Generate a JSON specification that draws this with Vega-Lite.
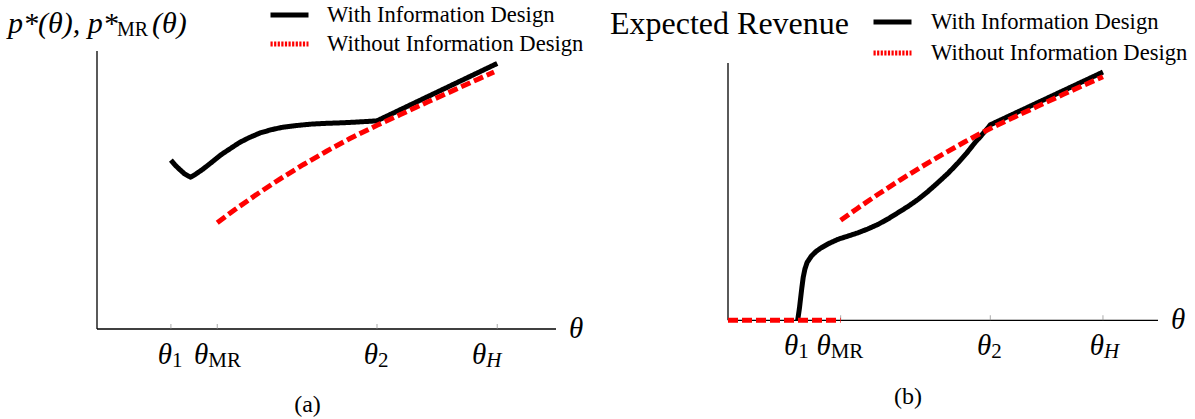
{
  "$schema": "https://vega.github.io/schema/vega-lite/v6.json",
  "background": "white",
  "padding": {"left": 8, "top": 4, "right": 0, "bottom": 0},
  "autosize": {"type": "pad"},
  "spacing": 26,
  "config": {
    "view": {"stroke": null},
    "font": "Liberation Serif"
  },
  "datasets": {
    "ticklabels": [
      {"theta": 1.61, "sub": "1"},
      {"theta": 2.62, "sub": "MR"},
      {"theta": 6.1, "sub": "2"},
      {"theta": 8.72, "sub": "H"}
    ],
    "curves": [
      {"panel": "a", "series": "With Information Design", "part": "p1", "theta": 1.61, "value": 6.12},
      {"panel": "a", "series": "With Information Design", "part": "p1", "theta": 1.7, "value": 5.94},
      {"panel": "a", "series": "With Information Design", "part": "p1", "theta": 1.8, "value": 5.78},
      {"panel": "a", "series": "With Information Design", "part": "p1", "theta": 1.9, "value": 5.63},
      {"panel": "a", "series": "With Information Design", "part": "p1", "theta": 2.0, "value": 5.53},
      {"panel": "a", "series": "With Information Design", "part": "p1", "theta": 2.04, "value": 5.5},
      {"panel": "a", "series": "With Information Design", "part": "p1", "theta": 2.15, "value": 5.61},
      {"panel": "a", "series": "With Information Design", "part": "p1", "theta": 2.3, "value": 5.78},
      {"panel": "a", "series": "With Information Design", "part": "p1", "theta": 2.5, "value": 6.04},
      {"panel": "a", "series": "With Information Design", "part": "p1", "theta": 2.7, "value": 6.31},
      {"panel": "a", "series": "With Information Design", "part": "p1", "theta": 2.9, "value": 6.53},
      {"panel": "a", "series": "With Information Design", "part": "p1", "theta": 3.1, "value": 6.75},
      {"panel": "a", "series": "With Information Design", "part": "p1", "theta": 3.3, "value": 6.92},
      {"panel": "a", "series": "With Information Design", "part": "p1", "theta": 3.55, "value": 7.1},
      {"panel": "a", "series": "With Information Design", "part": "p1", "theta": 3.8, "value": 7.22},
      {"panel": "a", "series": "With Information Design", "part": "p1", "theta": 4.05, "value": 7.31},
      {"panel": "a", "series": "With Information Design", "part": "p1", "theta": 4.35, "value": 7.37},
      {"panel": "a", "series": "With Information Design", "part": "p1", "theta": 4.65, "value": 7.42},
      {"panel": "a", "series": "With Information Design", "part": "p1", "theta": 5.0, "value": 7.45},
      {"panel": "a", "series": "With Information Design", "part": "p1", "theta": 5.35, "value": 7.47},
      {"panel": "a", "series": "With Information Design", "part": "p1", "theta": 5.7, "value": 7.5},
      {"panel": "a", "series": "With Information Design", "part": "p1", "theta": 6.1, "value": 7.54},
      {"panel": "a", "series": "With Information Design", "part": "p1", "theta": 8.72, "value": 9.62},

      {"panel": "a", "series": "Without Information Design", "part": "p1", "theta": 2.62, "value": 3.85},
      {"panel": "a", "series": "Without Information Design", "part": "p1", "theta": 3.0, "value": 4.32},
      {"panel": "a", "series": "Without Information Design", "part": "p1", "theta": 3.5, "value": 4.9},
      {"panel": "a", "series": "Without Information Design", "part": "p1", "theta": 4.0, "value": 5.45},
      {"panel": "a", "series": "Without Information Design", "part": "p1", "theta": 4.5, "value": 5.96},
      {"panel": "a", "series": "Without Information Design", "part": "p1", "theta": 5.0, "value": 6.44},
      {"panel": "a", "series": "Without Information Design", "part": "p1", "theta": 5.5, "value": 6.89},
      {"panel": "a", "series": "Without Information Design", "part": "p1", "theta": 6.1, "value": 7.38},
      {"panel": "a", "series": "Without Information Design", "part": "p1", "theta": 6.6, "value": 7.76},
      {"panel": "a", "series": "Without Information Design", "part": "p1", "theta": 7.2, "value": 8.22},
      {"panel": "a", "series": "Without Information Design", "part": "p1", "theta": 7.8, "value": 8.67},
      {"panel": "a", "series": "Without Information Design", "part": "p1", "theta": 8.3, "value": 9.05},
      {"panel": "a", "series": "Without Information Design", "part": "p1", "theta": 8.65, "value": 9.31},

      {"panel": "b", "series": "With Information Design", "part": "p1", "theta": 1.62, "value": 0},
      {"panel": "b", "series": "With Information Design", "part": "p1", "theta": 1.66, "value": 0.45},
      {"panel": "b", "series": "With Information Design", "part": "p1", "theta": 1.69, "value": 0.88},
      {"panel": "b", "series": "With Information Design", "part": "p1", "theta": 1.72, "value": 1.3},
      {"panel": "b", "series": "With Information Design", "part": "p1", "theta": 1.75, "value": 1.68},
      {"panel": "b", "series": "With Information Design", "part": "p1", "theta": 1.79, "value": 2.0},
      {"panel": "b", "series": "With Information Design", "part": "p1", "theta": 1.84, "value": 2.25},
      {"panel": "b", "series": "With Information Design", "part": "p1", "theta": 1.94, "value": 2.5},
      {"panel": "b", "series": "With Information Design", "part": "p1", "theta": 2.05, "value": 2.68},
      {"panel": "b", "series": "With Information Design", "part": "p1", "theta": 2.17, "value": 2.82},
      {"panel": "b", "series": "With Information Design", "part": "p1", "theta": 2.35, "value": 2.99},
      {"panel": "b", "series": "With Information Design", "part": "p1", "theta": 2.56, "value": 3.15},
      {"panel": "b", "series": "With Information Design", "part": "p1", "theta": 2.8, "value": 3.28},
      {"panel": "b", "series": "With Information Design", "part": "p1", "theta": 3.02, "value": 3.4},
      {"panel": "b", "series": "With Information Design", "part": "p1", "theta": 3.25, "value": 3.55},
      {"panel": "b", "series": "With Information Design", "part": "p1", "theta": 3.49, "value": 3.73},
      {"panel": "b", "series": "With Information Design", "part": "p1", "theta": 3.72, "value": 3.94},
      {"panel": "b", "series": "With Information Design", "part": "p1", "theta": 3.95, "value": 4.18},
      {"panel": "b", "series": "With Information Design", "part": "p1", "theta": 4.19, "value": 4.43},
      {"panel": "b", "series": "With Information Design", "part": "p1", "theta": 4.42, "value": 4.7},
      {"panel": "b", "series": "With Information Design", "part": "p1", "theta": 4.65, "value": 5.01},
      {"panel": "b", "series": "With Information Design", "part": "p1", "theta": 4.88, "value": 5.35},
      {"panel": "b", "series": "With Information Design", "part": "p1", "theta": 5.12, "value": 5.72},
      {"panel": "b", "series": "With Information Design", "part": "p1", "theta": 5.35, "value": 6.12},
      {"panel": "b", "series": "With Information Design", "part": "p1", "theta": 5.55, "value": 6.5},
      {"panel": "b", "series": "With Information Design", "part": "p1", "theta": 5.74, "value": 6.9},
      {"panel": "b", "series": "With Information Design", "part": "p1", "theta": 5.9, "value": 7.2},
      {"panel": "b", "series": "With Information Design", "part": "p1", "theta": 6.05, "value": 7.49},
      {"panel": "b", "series": "With Information Design", "part": "p1", "theta": 6.1, "value": 7.6},
      {"panel": "b", "series": "With Information Design", "part": "p1", "theta": 8.72, "value": 9.65},

      {"panel": "b", "series": "Without Information Design", "part": "p0", "theta": 0, "value": 0},
      {"panel": "b", "series": "Without Information Design", "part": "p0", "theta": 2.62, "value": 0},
      {"panel": "b", "series": "Without Information Design", "part": "p1", "theta": 2.62, "value": 3.89},
      {"panel": "b", "series": "Without Information Design", "part": "p1", "theta": 3.0, "value": 4.34},
      {"panel": "b", "series": "Without Information Design", "part": "p1", "theta": 3.5, "value": 4.91},
      {"panel": "b", "series": "Without Information Design", "part": "p1", "theta": 4.0, "value": 5.45},
      {"panel": "b", "series": "Without Information Design", "part": "p1", "theta": 4.5, "value": 5.97},
      {"panel": "b", "series": "Without Information Design", "part": "p1", "theta": 5.0, "value": 6.46},
      {"panel": "b", "series": "Without Information Design", "part": "p1", "theta": 5.5, "value": 6.93},
      {"panel": "b", "series": "Without Information Design", "part": "p1", "theta": 5.9, "value": 7.29},
      {"panel": "b", "series": "Without Information Design", "part": "p1", "theta": 6.1, "value": 7.46},
      {"panel": "b", "series": "Without Information Design", "part": "p1", "theta": 6.6, "value": 7.855},
      {"panel": "b", "series": "Without Information Design", "part": "p1", "theta": 7.2, "value": 8.32},
      {"panel": "b", "series": "Without Information Design", "part": "p1", "theta": 7.8, "value": 8.785},
      {"panel": "b", "series": "Without Information Design", "part": "p1", "theta": 8.3, "value": 9.16},
      {"panel": "b", "series": "Without Information Design", "part": "p1", "theta": 8.72, "value": 9.47}
    ]
  },
  "resolve": {
    "scale": {"x": "independent", "y": "independent", "color": "independent", "strokeDash": "independent"},
    "legend": {"color": "independent", "strokeDash": "independent"}
  },
  "hconcat": [
    {
      "width": 459,
      "height": 278,
      "title": {"text": "(a)", "orient": "bottom", "frame": "group", "anchor": "middle", "dx": -19, "offset": 22, "fontSize": 24, "font": "Liberation Serif", "fontWeight": "normal", "color": "black"},
      "layer": [
        {
          "data": {"name": "curves"},
          "transform": [{"filter": "datum.panel === 'a' && datum.series === 'With Information Design'"}],
          "mark": {"type": "line", "strokeWidth": 5, "strokeJoin": "round"},
          "encoding": {
            "x": {"field": "theta", "type": "quantitative", "scale": {"domain": [0, 10], "nice": false, "zero": false}, "axis": null},
            "y": {"field": "value", "type": "quantitative", "scale": {"domain": [0, 10.07], "nice": false, "zero": false}, "axis": null},
            "color": {"field": "series", "type": "nominal",
              "scale": {"domain": ["With Information Design", "Without Information Design"], "range": ["#000000", "#ff0000"]},
              "legend": {"orient": "none", "legendX": 171, "legendY": -47, "title": null, "symbolType": "stroke", "symbolSize": 1444, "symbolStrokeWidth": 5, "clipHeight": 22,
                "labelFont": "Liberation Serif", "labelFontSize": 22.6, "labelColor": "black", "labelOffset": 16, "labelLimit": 600, "rowPadding": 6, "padding": 0}},
            "strokeDash": {"field": "series", "type": "nominal",
              "scale": {"domain": ["With Information Design", "Without Information Design"], "range": [[1, 0], [2.2, 1.4]]},
              "legend": {"orient": "none", "legendX": 171, "legendY": -47, "title": null, "symbolType": "stroke", "symbolSize": 1444, "symbolStrokeWidth": 5, "clipHeight": 22,
                "labelFont": "Liberation Serif", "labelFontSize": 22.6, "labelColor": "black", "labelOffset": 16, "labelLimit": 600, "rowPadding": 6, "padding": 0}},
            "detail": {"field": "part", "type": "nominal"}
          }
        },
        {
          "data": {"name": "curves"},
          "transform": [{"filter": "datum.panel === 'a' && datum.series === 'Without Information Design'"}],
          "mark": {"type": "line", "strokeWidth": 5, "strokeDash": [10, 4]},
          "encoding": {
            "x": {"field": "theta", "type": "quantitative", "axis": null},
            "y": {"field": "value", "type": "quantitative", "axis": null},
            "color": {"field": "series", "type": "nominal", "legend": null},
            "detail": {"field": "part", "type": "nominal"}
          }
        },
        {
          "data": {"values": [{}]},
          "mark": {"type": "rule", "color": "black", "strokeWidth": 1.3},
          "encoding": {"x": {"datum": 0, "axis": null}, "y": {"datum": 0, "axis": null}, "y2": {"datum": 10.07}}
        },
        {
          "data": {"values": [{}]},
          "mark": {"type": "rule", "color": "black", "strokeWidth": 1.3},
          "encoding": {"x": {"datum": 0, "axis": null}, "x2": {"datum": 10}, "y": {"datum": 0, "axis": null}}
        },
        {
          "data": {"name": "ticklabels"},
          "mark": {"type": "tick", "orient": "vertical", "size": 5, "thickness": 1, "color": "#888888", "yOffset": -2.5},
          "encoding": {"x": {"field": "theta", "type": "quantitative", "axis": null}, "y": {"datum": 0, "axis": null}}
        },
        {
          "data": {"values": [{"label": "θ"}]},
          "mark": {"type": "text", "align": "left", "baseline": "middle", "fontSize": 29, "fontStyle": "italic", "dx": 13, "color": "black"},
          "encoding": {"x": {"datum": 10, "axis": null}, "y": {"datum": 0, "axis": null}, "text": {"field": "label", "type": "nominal"}}
        },
        {
          "data": {"name": "ticklabels"},
          "transform": [{"filter": "datum.sub === '1' || datum.sub === '2'"}],
          "mark": {"type": "text", "text": "θ", "align": "right", "baseline": "alphabetic", "fontSize": 29, "fontStyle": "italic", "dx": 1, "dy": 35, "color": "black"},
          "encoding": {"x": {"field": "theta", "type": "quantitative", "axis": null}, "y": {"datum": 0, "axis": null}}
        },
        {
          "data": {"name": "ticklabels"},
          "transform": [{"filter": "datum.sub === '1' || datum.sub === '2'"}],
          "mark": {"type": "text", "align": "left", "baseline": "alphabetic", "fontSize": 21, "dx": 1, "dy": 38, "color": "black"},
          "encoding": {"x": {"field": "theta", "type": "quantitative", "axis": null}, "y": {"datum": 0, "axis": null}, "text": {"field": "sub", "type": "nominal"}}
        },
        {
          "data": {"name": "ticklabels"},
          "transform": [{"filter": "datum.sub === 'MR'"}],
          "mark": {"type": "text", "text": "θ", "align": "right", "baseline": "alphabetic", "fontSize": 29, "fontStyle": "italic", "dx": -9, "dy": 35, "color": "black"},
          "encoding": {"x": {"field": "theta", "type": "quantitative", "axis": null}, "y": {"datum": 0, "axis": null}}
        },
        {
          "data": {"name": "ticklabels"},
          "transform": [{"filter": "datum.sub === 'MR'"}],
          "mark": {"type": "text", "align": "left", "baseline": "alphabetic", "fontSize": 21, "dx": -9, "dy": 38, "color": "black"},
          "encoding": {"x": {"field": "theta", "type": "quantitative", "axis": null}, "y": {"datum": 0, "axis": null}, "text": {"field": "sub", "type": "nominal"}}
        },
        {
          "data": {"name": "ticklabels"},
          "transform": [{"filter": "datum.sub === 'H'"}],
          "mark": {"type": "text", "text": "θ", "align": "right", "baseline": "alphabetic", "fontSize": 29, "fontStyle": "italic", "dx": -11, "dy": 35, "color": "black"},
          "encoding": {"x": {"field": "theta", "type": "quantitative", "axis": null}, "y": {"datum": 0, "axis": null}}
        },
        {
          "data": {"name": "ticklabels"},
          "transform": [{"filter": "datum.sub === 'H'"}],
          "mark": {"type": "text", "align": "left", "baseline": "alphabetic", "fontSize": 21, "fontStyle": "italic", "dx": -11, "dy": 38, "color": "black"},
          "encoding": {"x": {"field": "theta", "type": "quantitative", "axis": null}, "y": {"datum": 0, "axis": null}, "text": {"field": "sub", "type": "nominal"}}
        },
        {
          "data": {"values": [{"label": "p*(θ), p*"}]},
          "mark": {"type": "text", "align": "left", "baseline": "alphabetic", "fontSize": 30, "fontStyle": "italic", "dx": -89, "dy": -18, "color": "black"},
          "encoding": {"x": {"datum": 0, "axis": null}, "y": {"datum": 10.07, "axis": null}, "text": {"field": "label", "type": "nominal"}}
        },
        {
          "data": {"values": [{"label": "MR"}]},
          "mark": {"type": "text", "align": "left", "baseline": "alphabetic", "fontSize": 20, "dx": 20, "dy": -15, "color": "black"},
          "encoding": {"x": {"datum": 0, "axis": null}, "y": {"datum": 10.07, "axis": null}, "text": {"field": "label", "type": "nominal"}}
        },
        {
          "data": {"values": [{"label": "(θ)"}]},
          "mark": {"type": "text", "align": "left", "baseline": "alphabetic", "fontSize": 30, "fontStyle": "italic", "dx": 55, "dy": -18, "color": "black"},
          "encoding": {"x": {"datum": 0, "axis": null}, "y": {"datum": 10.07, "axis": null}, "text": {"field": "label", "type": "nominal"}}
        }
      ]
    },
    {
      "width": 430,
      "height": 269.3,
      "title": {"text": "(b)", "orient": "bottom", "frame": "group", "anchor": "middle", "dx": -35, "offset": 23, "fontSize": 24, "font": "Liberation Serif", "fontWeight": "normal", "color": "black"},
      "layer": [
        {
          "data": {"values": [{}]},
          "mark": {"type": "rule", "color": "black", "strokeWidth": 1.3},
          "encoding": {"x": {"datum": 0, "axis": null}, "y": {"datum": 0, "axis": null}, "y2": {"datum": 10}}
        },
        {
          "data": {"values": [{}]},
          "mark": {"type": "rule", "color": "black", "strokeWidth": 1.3},
          "encoding": {"x": {"datum": 0, "axis": null}, "x2": {"datum": 10}, "y": {"datum": 0, "axis": null}}
        },
        {
          "data": {"name": "ticklabels"},
          "mark": {"type": "tick", "orient": "vertical", "size": 5, "thickness": 1, "color": "#888888", "yOffset": -2.5},
          "encoding": {"x": {"field": "theta", "type": "quantitative", "axis": null}, "y": {"datum": 0, "axis": null}}
        },
        {
          "data": {"values": [{"label": "θ"}]},
          "mark": {"type": "text", "align": "left", "baseline": "middle", "fontSize": 29, "fontStyle": "italic", "dx": 13, "color": "black"},
          "encoding": {"x": {"datum": 10, "axis": null}, "y": {"datum": 0, "axis": null}, "text": {"field": "label", "type": "nominal"}}
        },
        {
          "data": {"name": "curves"},
          "transform": [{"filter": "datum.panel === 'b' && datum.series === 'With Information Design'"}],
          "mark": {"type": "line", "strokeWidth": 5, "strokeJoin": "round"},
          "encoding": {
            "x": {"field": "theta", "type": "quantitative", "scale": {"domain": [0, 10], "nice": false, "zero": false}, "axis": null},
            "y": {"field": "value", "type": "quantitative", "scale": {"domain": [0, 10.47], "nice": false, "zero": false}, "axis": null},
            "color": {"field": "series", "type": "nominal",
              "scale": {"domain": ["With Information Design", "Without Information Design"], "range": ["#000000", "#ff0000"]},
              "legend": {"orient": "none", "legendX": 143, "legendY": -40, "title": null, "symbolType": "stroke", "symbolSize": 1444, "symbolStrokeWidth": 5, "clipHeight": 22,
                "labelFont": "Liberation Serif", "labelFontSize": 22.6, "labelColor": "black", "labelOffset": 17, "labelLimit": 600, "rowPadding": 8, "padding": 0}},
            "strokeDash": {"field": "series", "type": "nominal",
              "scale": {"domain": ["With Information Design", "Without Information Design"], "range": [[1, 0], [2.2, 1.4]]},
              "legend": {"orient": "none", "legendX": 143, "legendY": -40, "title": null, "symbolType": "stroke", "symbolSize": 1444, "symbolStrokeWidth": 5, "clipHeight": 22,
                "labelFont": "Liberation Serif", "labelFontSize": 22.6, "labelColor": "black", "labelOffset": 17, "labelLimit": 600, "rowPadding": 8, "padding": 0}},
            "detail": {"field": "part", "type": "nominal"}
          }
        },
        {
          "data": {"name": "curves"},
          "transform": [{"filter": "datum.panel === 'b' && datum.series === 'Without Information Design'"}],
          "mark": {"type": "line", "strokeWidth": 5, "strokeDash": [10, 4]},
          "encoding": {
            "x": {"field": "theta", "type": "quantitative", "axis": null},
            "y": {"field": "value", "type": "quantitative", "axis": null},
            "color": {"field": "series", "type": "nominal", "legend": null},
            "detail": {"field": "part", "type": "nominal"}
          }
        },
        {
          "data": {"name": "ticklabels"},
          "transform": [{"filter": "datum.sub !== 'MR'"}],
          "mark": {"type": "text", "text": "θ", "align": "right", "baseline": "alphabetic", "fontSize": 29, "fontStyle": "italic", "dx": 1, "dy": 35, "color": "black"},
          "encoding": {"x": {"field": "theta", "type": "quantitative", "axis": null}, "y": {"datum": 0, "axis": null}}
        },
        {
          "data": {"name": "ticklabels"},
          "transform": [{"filter": "datum.sub === '1' || datum.sub === '2'"}],
          "mark": {"type": "text", "align": "left", "baseline": "alphabetic", "fontSize": 21, "dx": 1, "dy": 38, "color": "black"},
          "encoding": {"x": {"field": "theta", "type": "quantitative", "axis": null}, "y": {"datum": 0, "axis": null}, "text": {"field": "sub", "type": "nominal"}}
        },
        {
          "data": {"name": "ticklabels"},
          "transform": [{"filter": "datum.sub === 'H'"}],
          "mark": {"type": "text", "align": "left", "baseline": "alphabetic", "fontSize": 21, "fontStyle": "italic", "dx": 1, "dy": 38, "color": "black"},
          "encoding": {"x": {"field": "theta", "type": "quantitative", "axis": null}, "y": {"datum": 0, "axis": null}, "text": {"field": "sub", "type": "nominal"}}
        },
        {
          "data": {"name": "ticklabels"},
          "transform": [{"filter": "datum.sub === 'MR'"}],
          "mark": {"type": "text", "text": "θ", "align": "right", "baseline": "alphabetic", "fontSize": 29, "fontStyle": "italic", "dx": -10, "dy": 35, "color": "black"},
          "encoding": {"x": {"field": "theta", "type": "quantitative", "axis": null}, "y": {"datum": 0, "axis": null}}
        },
        {
          "data": {"name": "ticklabels"},
          "transform": [{"filter": "datum.sub === 'MR'"}],
          "mark": {"type": "text", "align": "left", "baseline": "alphabetic", "fontSize": 21, "dx": -10, "dy": 38, "color": "black"},
          "encoding": {"x": {"field": "theta", "type": "quantitative", "axis": null}, "y": {"datum": 0, "axis": null}, "text": {"field": "sub", "type": "nominal"}}
        },
        {
          "data": {"values": [{"label": "Expected Revenue"}]},
          "mark": {"type": "text", "align": "left", "baseline": "alphabetic", "fontSize": 32, "dx": -118, "dy": -29, "color": "black"},
          "encoding": {"x": {"datum": 0, "axis": null}, "y": {"datum": 10, "axis": null}, "text": {"field": "label", "type": "nominal"}}
        }
      ]
    }
  ]
}
